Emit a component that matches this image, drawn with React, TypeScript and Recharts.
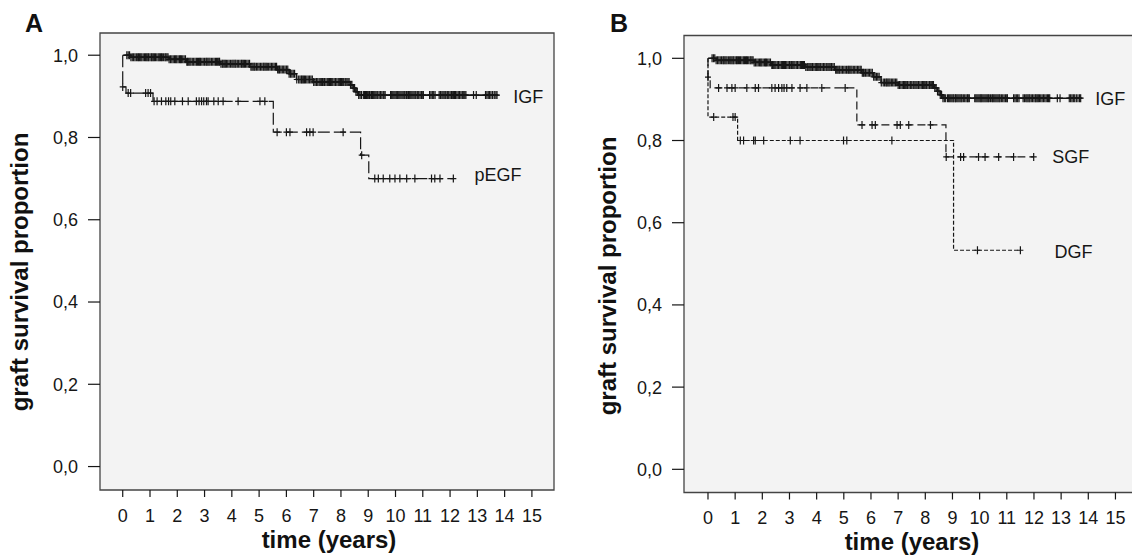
import React from 'react';
import { ComposedChart, Line, Scatter, XAxis, YAxis, ReferenceArea, ReferenceDot } from 'recharts';

// ---------- data ----------
const YEAR_TICKS = [0, 1, 2, 3, 4, 5, 6, 7, 8, 9, 10, 11, 12, 13, 14, 15];
const SURV_TICKS = [0, 0.2, 0.4, 0.6, 0.8, 1.0];

// IGF (immediate graft function) – same group in both panels
const IGF_TIME = [0, 0.3, 1.7, 2.35, 3.56, 4.66, 5.65, 6.1, 6.37, 7.0, 8.35, 8.45, 8.55, 8.65, 13.76];
const IGF_SURV = [1.0, 0.995, 0.99, 0.984, 0.979, 0.972, 0.965, 0.955, 0.941, 0.935, 0.928, 0.92, 0.911, 0.903, 0.903];
const IGF_CENSOR = [
  0.15, 0.25, 0.35, 0.45, 0.55, 0.62, 0.7, 0.8, 0.88, 0.95, 1.05, 1.12, 1.2, 1.3, 1.38, 1.45, 1.55, 1.62, 1.7, 1.8,
  1.9, 1.98, 2.08, 2.15, 2.25, 2.35, 2.42, 2.5, 2.6, 2.7, 2.78, 2.85, 2.95, 3.05, 3.12, 3.2, 3.3, 3.4, 3.48, 3.55,
  3.65, 3.72, 3.8, 3.9, 4.0, 4.08, 4.15, 4.25, 4.35, 4.42, 4.5, 4.6, 4.7, 4.78, 4.85, 4.95, 5.05, 5.15, 5.22, 5.3,
  5.4, 5.5, 5.6, 5.68, 5.75, 5.85, 5.95, 6.05, 6.15, 6.3, 6.45, 6.55, 6.62, 6.7, 6.8, 6.9, 7.0, 7.1, 7.2, 7.28,
  7.35, 7.45, 7.55, 7.62, 7.7, 7.8, 7.9, 7.98, 8.05, 8.15, 8.22, 8.3, 8.4, 8.5, 8.6, 8.75, 8.82, 8.9, 8.98, 9.05,
  9.12, 9.2, 9.28, 9.35, 9.45, 9.55, 9.62, 9.82, 9.9, 9.98, 10.05, 10.12, 10.2, 10.28, 10.35, 10.45, 10.52, 10.6,
  10.68, 10.75, 10.85, 10.95, 11.02, 11.25, 11.35, 11.45, 11.6, 11.7, 11.78, 11.85, 11.95, 12.05, 12.12, 12.2,
  12.3, 12.4, 12.5, 12.58, 12.86, 12.96, 13.3, 13.4, 13.5, 13.62, 13.72,
];
const IGF_CENSOR_MORE = [
  0.2, 0.3, 0.4, 0.5, 0.58, 0.66, 0.75, 0.84, 0.92, 1.0, 1.08, 1.16, 1.25, 1.34, 1.42, 1.5, 1.58, 1.66, 1.75, 1.85,
  1.94, 2.03, 2.12, 2.2, 2.3, 2.38, 2.46, 2.55, 2.65, 2.74, 2.82, 2.9, 3.0, 3.08, 3.16, 3.25, 3.35, 3.44, 3.52, 3.6,
  3.68, 3.76, 3.85, 3.95, 4.04, 4.12, 4.2, 4.3, 4.38, 4.46, 4.55, 4.65, 4.74, 4.82, 4.9, 5.0, 5.1, 5.18, 5.26, 5.35,
  5.45, 5.55, 5.64, 5.72, 5.8, 5.9, 6.0, 6.1, 6.2, 6.25, 6.38, 6.5, 6.58, 6.66, 6.75, 6.85, 6.95, 7.05, 7.15, 7.24,
  7.32, 7.4, 7.5, 7.58, 7.66, 7.75, 7.85, 7.94, 8.02, 8.1, 8.18, 8.26, 8.35, 8.45, 8.55, 8.65, 8.7, 8.86, 8.94,
  9.02, 9.1, 9.16, 9.24, 9.32, 9.4, 9.5, 9.58, 9.86, 9.94, 10.02, 10.08, 10.16, 10.24, 10.32, 10.4, 10.48, 10.56,
  10.64, 10.72, 10.8, 10.9, 11.0, 11.3, 11.4, 11.65, 11.74, 11.82, 11.9, 12.0, 12.08, 12.16, 12.25, 12.35, 12.45,
  12.54, 13.35, 13.45, 13.56, 13.68,
];

// pEGF (panel A)
const PEGF_TIME = [0, 0, 0.12, 1.11, 5.52, 8.72, 9.02, 12.12];
const PEGF_SURV = [1.0, 0.923, 0.908, 0.888, 0.813, 0.757, 0.7, 0.7];
const PEGF_CENSOR = [
  0.0, 0.2, 0.29, 0.84, 0.93, 1.02, 1.15, 1.26, 1.42, 1.58, 1.68, 1.76, 1.91, 2.19, 2.4, 2.7, 2.8, 2.89, 2.97,
  3.07, 3.13, 3.34, 3.5, 3.68, 4.23, 5.03, 5.21, 5.66, 6.0, 6.13, 6.74, 6.86, 6.98, 8.08, 8.76, 9.24, 9.37, 9.55,
  9.79, 9.98, 10.16, 10.41, 10.71, 11.32, 11.44, 11.63, 12.12,
];

// SGF (panel B)
const SGF_TIME = [0, 0, 0.08, 5.48, 8.76, 11.99];
const SGF_SURV = [1.0, 0.954, 0.928, 0.838, 0.76, 0.76];
const SGF_CENSOR = [
  0.0, 0.39, 0.7, 0.88, 1.0, 1.43, 1.74, 1.86, 2.35, 2.47, 2.6, 2.72, 2.8, 2.9, 3.09, 3.39, 3.64, 4.19, 5.05,
  5.67, 6.04, 6.16, 6.96, 7.08, 7.39, 8.19, 8.77, 9.3, 9.41, 9.96, 10.2, 10.7, 11.25, 11.99,
];

// DGF (panel B)
const DGF_TIME = [0, 0, 1.09, 9.04, 11.5];
const DGF_SURV = [1.0, 0.857, 0.8, 0.533, 0.533];
const DGF_CENSOR = [0.21, 0.92, 1.0, 1.19, 1.31, 1.68, 1.74, 2.05, 3.03, 3.39, 4.99, 5.11, 6.77, 9.92, 11.5];

// ---------- helpers ----------
const FONT = '"Liberation Sans", Arial, Helvetica, sans-serif';
const INK = '#161616';

const toSteps = (ts: number[], ss: number[]) => ts.map((t, i) => ({ t, v: ss[i] }));
const toCensor = (cs: number[], ts: number[], ss: number[]) =>
  cs.map((c) => {
    let v = ss[0];
    for (let i = 0; i < ts.length; i++) if (ts[i] <= c + 1e-9) v = ss[i];
    return { t: c, v };
  });

const Cross = (props: any) => {
  const { cx, cy } = props;
  if (cx == null || cy == null || isNaN(cx) || isNaN(cy)) return null;
  return (
    <path
      d={`M${cx - 3},${cy}H${cx + 3}M${cx},${cy - 4}V${cy + 4}`}
      stroke={INK}
      strokeWidth={1.2}
      fill="none"
    />
  );
};

const YTitle = (p: any) => (
  <g>
    <text
      x={p.tx}
      y={p.ty}
      transform={`rotate(-90, ${p.tx}, ${p.ty})`}
      textAnchor="middle"
      fontFamily={FONT}
      fontWeight="bold"
      fontSize={24}
      fill="#111"
    >
      graft survival proportion
    </text>
    <text x={p.lx} y={p.ly} fontFamily={FONT} fontWeight="bold" fontSize={25} fill="#111">
      {p.letter}
    </text>
  </g>
);

const XTitle = (p: any) => (
  <text x={p.tx} y={p.ty} textAnchor="middle" fontFamily={FONT} fontWeight="bold" fontSize={24} fill="#111">
    time (years)
  </text>
);

const fmt = (v: number) => v.toFixed(1).replace('.', ',');
const tickStyle = { fontSize: 18, fill: INK, fontFamily: FONT };

type Series = {
  name: string;
  time: number[];
  surv: number[];
  censor: number[];
  dash?: string;
  width?: number;
  lx: number;
  ly: number;
};

function Panel(props: {
  series: Series[];
  marginTop: number;
  xAxisHeight: number;
  xDomain: [number, number];
  yDomain: [number, number];
  letter: string;
  yt: { tx: number; ty: number; lx: number; ly: number };
  xt: { tx: number; ty: number };
}) {
  const { series, marginTop, xAxisHeight, xDomain, yDomain } = props;
  return (
    <ComposedChart width={560} height={559} margin={{ top: marginTop, right: 6, bottom: 0, left: 0 }}>
      <XAxis
        type="number"
        dataKey="t"
        domain={xDomain}
        ticks={YEAR_TICKS}
        interval={0}
        allowDataOverflow
        axisLine={false}
        tickLine={{ stroke: INK, strokeWidth: 1.2 }}
        tickSize={7}
        tickMargin={12}
        height={xAxisHeight}
        tick={tickStyle}
        label={<XTitle tx={props.xt.tx} ty={props.xt.ty} />}
      />
      <YAxis
        type="number"
        dataKey="v"
        domain={yDomain}
        ticks={SURV_TICKS}
        interval={0}
        allowDataOverflow
        axisLine={false}
        tickLine={{ stroke: INK, strokeWidth: 1.2 }}
        tickSize={12}
        tickMargin={10}
        width={100}
        tick={tickStyle}
        tickFormatter={fmt}
        label={<YTitle tx={props.yt.tx} ty={props.yt.ty} lx={props.yt.lx} ly={props.yt.ly} letter={props.letter} />}
      />
      <ReferenceArea
        x1={xDomain[0]}
        x2={xDomain[1]}
        y1={yDomain[0]}
        y2={yDomain[1]}
        fill="#f3f3f3"
        fillOpacity={1}
        stroke="#444"
        strokeWidth={1.3}
        ifOverflow="visible"
      />
      {series.map((s) => (
        <Line
          key={s.name + '-line'}
          data={toSteps(s.time, s.surv)}
          dataKey="v"
          type="stepAfter"
          stroke={INK}
          strokeWidth={s.width ?? 1.2}
          strokeDasharray={s.dash}
          dot={false}
          activeDot={false}
          isAnimationActive={false}
        />
      ))}
      {series.map((s) => (
        <Scatter
          key={s.name + '-censor'}
          data={toCensor(s.censor, s.time, s.surv)}
          dataKey="v"
          shape={Cross}
          isAnimationActive={false}
        />
      ))}
      {series.map((s) => (
        <ReferenceDot
          key={s.name + '-label'}
          x={s.lx}
          y={s.ly}
          r={1}
          fill="none"
          stroke="none"
          ifOverflow="visible"
          label={{ value: s.name, position: 'right', offset: 0, fontSize: 18, fill: INK, fontFamily: FONT }}
        />
      ))}
    </ComposedChart>
  );
}

const IGF_ALL = [...IGF_CENSOR, ...IGF_CENSOR_MORE];

const SERIES_A: Series[] = [
  { name: 'IGF', time: IGF_TIME, surv: IGF_SURV, censor: IGF_ALL, width: 1.6, lx: 14.28, ly: 0.899 },
  { name: 'pEGF', time: PEGF_TIME, surv: PEGF_SURV, censor: PEGF_CENSOR, dash: '12 4', lx: 12.86, ly: 0.71 },
];
const SERIES_B: Series[] = [
  { name: 'IGF', time: IGF_TIME, surv: IGF_SURV, censor: IGF_ALL, width: 1.6, lx: 14.22, ly: 0.9027 },
  { name: 'SGF', time: SGF_TIME, surv: SGF_SURV, censor: SGF_CENSOR, dash: '8 4', lx: 12.64, ly: 0.7606 },
  { name: 'DGF', time: DGF_TIME, surv: DGF_SURV, censor: DGF_CENSOR, dash: '4 2', lx: 12.72, ly: 0.5287 },
];

export default function App() {
  return (
    <div
      style={{
        position: 'absolute',
        left: 0,
        top: 0,
        width: 1132,
        height: 559,
        overflow: 'hidden',
        background: '#fff',
      }}
    >
      <div style={{ position: 'absolute', left: 0, top: 0 }}>
        <Panel
          series={SERIES_A}
          marginTop={33}
          xAxisHeight={69}
          xDomain={[-0.833, 15.81]}
          yDomain={[-0.057, 1.054]}
          letter="A"
          yt={{ tx: 28, ty: 272, lx: 25, ly: 32 }}
          xt={{ tx: 329, ty: 548 }}
        />
      </div>
      <div style={{ position: 'absolute', left: 584, top: 0 }}>
        <Panel
          series={SERIES_B}
          marginTop={35.5}
          xAxisHeight={66.5}
          xDomain={[-0.883, 15.83]}
          yDomain={[-0.0564, 1.0555]}
          letter="B"
          yt={{ tx: 32, ty: 276, lx: 26, ly: 32 }}
          xt={{ tx: 328, ty: 550 }}
        />
      </div>
    </div>
  );
}
